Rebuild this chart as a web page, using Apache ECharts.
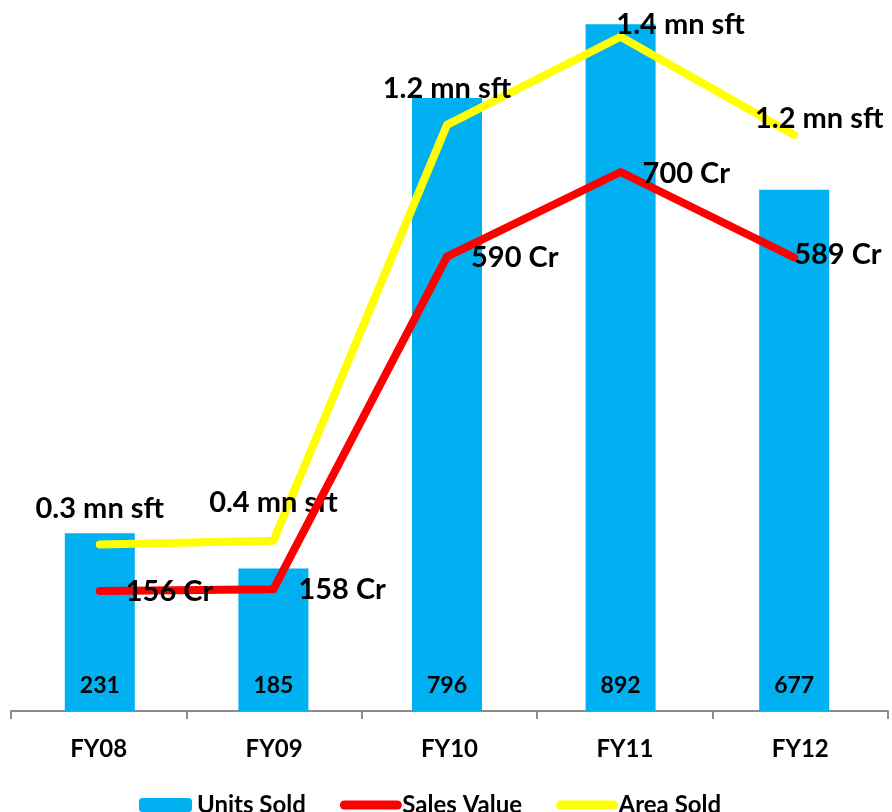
<!DOCTYPE html>
<html>
<head>
<meta charset="utf-8">
<style>
  html, body { margin: 0; padding: 0; background: #ffffff; }
  #chart { width: 892px; height: 812px; }
</style>
<script src="https://cdn.jsdelivr.net/npm/echarts@6/dist/echarts.min.js"></script>
</head>
<body>
<div id="chart"></div>
<script>
// Fiscal years
const categories = ['FY08', 'FY09', 'FY10', 'FY11', 'FY12'];
// Units sold (count)
const unitsSold = [231, 185, 796, 892, 677];
// Sales value (Rs. crore)
const salesValue = [156, 158, 590, 700, 589];
// Area sold (million sq. ft.)
const areaSold = [0.346, 0.354, 1.218, 1.401, 1.197];

const FONT = 'Lato, "DejaVu Sans", sans-serif';

// Label nudges per point so the texts clear the lines and the chart edges
const salesLabelShift = [[26, 1], [25, 0], [24, 1], [22, 2], [0, -3]];
const areaLabelShift = [[0, -36], [0, -38], [0, -36], [60, -12], [25, -16]];

const chart = echarts.init(document.getElementById('chart'));

const labelText = {
  color: '#000000',
  fontFamily: FONT,
  fontWeight: 'bold',
  fontSize: 29
};

chart.setOption({
  animation: false,
  backgroundColor: '#ffffff',
  grid: [
    // category axis with ticks and year labels
    { left: 11, right: 4, top: 18, bottom: 101 },
    // bars and lines
    { left: 13, width: 868, top: 18, bottom: 101 }
  ],
  legend: {
    top: 788,
    left: 134,
    itemWidth: 53,
    itemHeight: 14,
    itemGap: 34,
    lineStyle: { width: 9, cap: 'round' },
    textStyle: { color: '#000', fontFamily: FONT, fontWeight: 'bold', fontSize: 24 },
    data: [
      { name: 'Units Sold' },
      { name: 'Sales Value', itemStyle: { opacity: 0 } },
      { name: 'Area Sold', itemStyle: { opacity: 0 } }
    ]
  },
  xAxis: [
    {
      type: 'category',
      gridIndex: 0,
      data: categories,
      axisLine: { lineStyle: { color: '#8c8c8c', width: 2 } },
      axisTick: { show: true, length: 8, lineStyle: { color: '#8c8c8c', width: 2 } },
      axisLabel: { margin: 26, color: '#000', fontFamily: FONT, fontWeight: 'bold', fontSize: 24 }
    },
    {
      type: 'category',
      gridIndex: 1,
      data: categories,
      show: false
    }
  ],
  yAxis: [
    { type: 'value', gridIndex: 0, min: 0, max: 1, show: false },
    { type: 'value', gridIndex: 1, min: 0, max: 900, show: false },
    { type: 'value', gridIndex: 1, min: 0, max: 1.44, show: false }
  ],
  series: [
    {
      name: 'Units Sold',
      type: 'bar',
      xAxisIndex: 1,
      yAxisIndex: 1,
      data: unitsSold,
      barWidth: 70,
      itemStyle: { color: '#00B0F0' },
      label: {
        show: true,
        position: 'insideBottom',
        distance: 14,
        color: '#000',
        fontFamily: FONT,
        fontWeight: 'bold',
        fontSize: 23
      }
    },
    {
      name: 'Sales Value',
      type: 'line',
      xAxisIndex: 1,
      yAxisIndex: 1,
      data: salesValue.map((v, i) => ({
        value: v,
        label: { offset: salesLabelShift[i] }
      })),
      symbol: 'circle',
      symbolSize: 0,
      showSymbol: true,
      lineStyle: { color: '#FF0000', width: 8, cap: 'round', join: 'round' },
      itemStyle: { color: '#FF0000' },
      label: Object.assign({
        show: true,
        position: 'right',
        distance: 0,
        formatter: p => p.value + ' Cr'
      }, labelText),
      z: 3
    },
    {
      name: 'Area Sold',
      type: 'line',
      xAxisIndex: 1,
      yAxisIndex: 2,
      data: areaSold.map((v, i) => ({
        value: v,
        label: { offset: areaLabelShift[i] }
      })),
      symbol: 'circle',
      symbolSize: 0,
      showSymbol: true,
      lineStyle: { color: '#FFFF00', width: 8, cap: 'round', join: 'round' },
      itemStyle: { color: '#FFFF00' },
      label: Object.assign({
        show: true,
        position: 'inside',
        formatter: p => p.value.toFixed(1) + ' mn sft'
      }, labelText),
      z: 2
    }
  ]
});
</script>
</body>
</html>
